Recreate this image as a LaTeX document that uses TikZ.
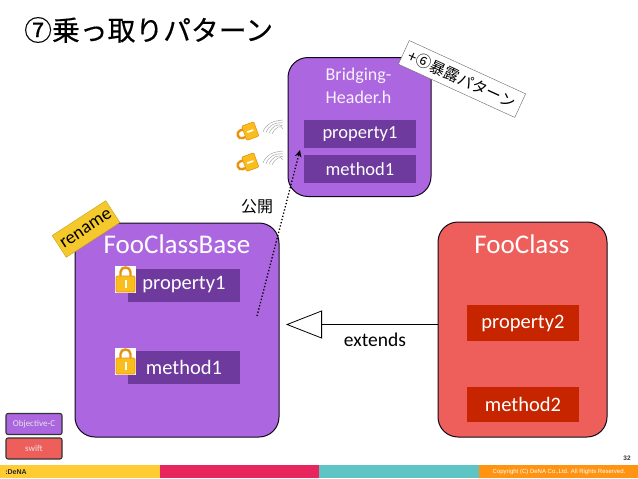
\documentclass[tikz,border=0pt]{standalone}
\usepackage{fontspec}
\setmainfont{Carlito}
\newfontfamily\cjk{Noto Sans CJK JP}
\newfontfamily\cjktitle[FakeBold=0.35]{Noto Sans CJK JP}
\newfontfamily\heros{Liberation Sans}
\usetikzlibrary{arrows.meta}
\definecolor{objcFill}{HTML}{AC66E0}
\definecolor{objcDark}{HTML}{6E3A9E}
\definecolor{swiftFill}{HTML}{EE5F5B}
\definecolor{swiftDark}{HTML}{C62500}
\definecolor{lockGold}{HTML}{F9BE1E}
\definecolor{lockEdge}{HTML}{E8920E}
\definecolor{tagYellow}{HTML}{F5C92C}
\definecolor{bandYellow}{HTML}{FFCC33}
\definecolor{bandPink}{HTML}{E8265E}
\definecolor{bandTeal}{HTML}{5FC4C4}
\definecolor{bandOrange}{HTML}{FF9412}
\tikzset{
  classbox/.style={draw=black!85!objcDark, line width=1pt, rounded corners=20pt, minimum width=#1},
  member/.style={text=white, font=\fontsize{20.5}{20.5}\selectfont, minimum width=112pt, inner sep=0pt},
  smallmember/.style={member, fill=objcDark, minimum height=28pt, font=\fontsize{18.5}{18.5}\selectfont},
  classname/.style={text=white, font=\fontsize{27}{27}\selectfont, inner sep=0pt},
  legendbox/.style={draw=black!80, line width=1.1pt, rounded corners=2pt, minimum width=56pt, minimum height=21pt,
    inner sep=0pt, text=white!90!black, font=\fontsize{9}{9}\selectfont},
  band/.style={minimum height=13pt, inner sep=0pt, anchor=north west},
  lockpic/.pic={
    \draw[lockEdge, line width=2.4pt] (-5,-1) -- (-5,-5) .. controls (-5,-11) and (5,-11) .. (5,-5) -- (5,-1);
    \fill[lockGold, draw=lockEdge, line width=0.6pt, rounded corners=1pt] (-9.5,-1) rectangle (9.5,15);
    \fill[white] (-1,3) rectangle (1,11);
  }
}
\begin{document}
\begin{tikzpicture}[x=1pt, y=-1pt, >=Stealth]
  \useasboundingbox (0,0) rectangle (638,479);

  % Title
  \node[anchor=west, inner sep=0pt, font=\cjktitle\fontsize{27.8}{27.8}\selectfont] (title) at (24,30) {⑦乗っ取りパターン};

  % Bridging header
  \node[classbox=143pt, minimum height=139pt, fill=objcFill] (bridge) at (359.5,127) {};
  \node[text=white!92!objcFill, align=left, font=\fontsize{18}{23}\selectfont, inner sep=0pt, anchor=north west] (bridgeName) at (325.5,68) {Bridging-\\Header.h};
  \node[smallmember] (bridgeProp) at (360,134) {property1};
  \node[smallmember] (bridgeMeth) at (360,169) {method1};

  % Base class
  \node[classbox=204pt, minimum height=214pt, fill=objcFill] (fooBase) at (177,330) {};
  \node[classname] (fooBaseName) at (177,244) {FooClassBase};
  \node[member, fill=objcDark, minimum height=33pt] (baseProp) at (184,285) {property1};
  \node[member, fill=objcDark, minimum height=33pt] (baseMeth) at (184,367) {method1};

  % Swift class
  \node[classbox=169pt, minimum height=215pt, fill=swiftFill] (foo) at (522.5,329.5) {};
  \node[classname] (fooName) at (522,244) {FooClass};
  \node[member, fill=swiftDark, minimum height=36pt] (fooProp) at (523,323) {property2};
  \node[member, fill=swiftDark, minimum height=35pt] (fooMeth) at (523,404.5) {method2};

  % Tags
  \node[fill=tagYellow, draw=tagYellow!80!black, line width=0.4pt, rotate=33, minimum width=64pt, minimum height=26pt, inner sep=0pt,
    font=\fontsize{18.5}{18.5}\selectfont] (renameTag) at (86,229) {rename};
  \node[fill=white, draw=black!60, line width=0.4pt, rotate=-24.6, minimum width=128pt, minimum height=26pt, inner sep=0pt,
    font=\cjk\fontsize{15.5}{15.5}\selectfont] (exposeTag) at (462,79) {+⑥暴露パターン};

  % Extends
  \coordinate (extendsTip) at (286,324.5);
  \draw[line width=0.8pt, -{Triangle[open, length=36pt, width=28pt, line width=0.8pt]}] (extendsTip -| foo.west) -- (extendsTip);
  \node[font=\fontsize{19.5}{19.5}\selectfont, inner sep=0pt] (extendsLabel) at (375,340) {extends};

  % Publish
  \coordinate (publishFrom) at (257,316);
  \coordinate (publishTo) at (300,150);
  \draw[-{Stealth[length=7pt, width=6.5pt]}, dotted, line width=1.3pt] (publishFrom) -- (publishTo);
  \node[font=\cjk\fontsize{16}{16}\selectfont, inner sep=0pt] (publishLabel) at (257,207) {公開};

  % Locks
  \foreach \y/\n in {266/1, 348/2} {
    \node[fill=white, minimum width=21pt, minimum height=27pt, inner sep=0pt, anchor=north west] (lockBack\n) at (115,\y) {};
    \pic at (125.5,\y+11) {lockpic};
  }
  \foreach \y in {135, 166} {
    \pic[rotate=110, scale=0.8] at (245,\y-2) {lockpic};
    \foreach \d in {0,3,6,9} {
      \draw[black!40, line width=0.4pt] (263+\d,\y-3+\d*0.2) .. controls (266+\d,\y-11+\d*0.4) and (272+\d,\y-14+\d*0.3) .. (283,\y-15+\d);
    }
  }

  % Legend
  \node[legendbox, fill=objcFill] (legendObjc) at (34,424) {Objective-C};
  \node[legendbox, fill=swiftFill] (legendSwift) at (34,448.5) {swift};

  % Footer
  \node[band, fill=bandYellow, minimum width=160pt] (bandA) at (0,465) {};
  \node[band, fill=bandPink, minimum width=159pt] (bandB) at (160,465) {};
  \node[band, fill=bandTeal, minimum width=160pt] (bandC) at (319,465) {};
  \node[band, fill=bandOrange, minimum width=159pt] (bandD) at (479,465) {};
  \node[font=\heros\bfseries\fontsize{7}{7}\selectfont, inner sep=0pt, text=black!85] (logo) at (16,472) {:DeNA};
  \node[font=\heros\fontsize{6}{6}\selectfont, inner sep=0pt, text=white] (copyright) at (559,472) {Copyright (C) DeNA Co.,Ltd. All Rights Reserved.};
  \node[font=\heros\bfseries\fontsize{6.5}{6.5}\selectfont, inner sep=0pt, text=black!80] (pageNum) at (627,458.5) {32};
\end{tikzpicture}
\end{document}
